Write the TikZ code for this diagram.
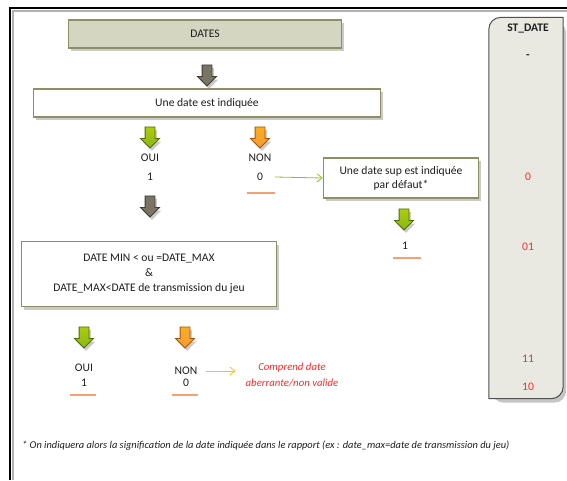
\documentclass[tikz,border=0pt]{standalone}
\usepackage{fontspec}
\setmainfont{Carlito}
\usetikzlibrary{shapes.arrows,shadows,arrows.meta}
\definecolor{oliveb}{HTML}{8E9063}
\definecolor{khaki}{HTML}{D4D6C1}
\definecolor{panelf}{HTML}{E9E9E1}
\definecolor{panelb}{HTML}{4F4F4F}
\definecolor{greenf}{HTML}{8AB713}
\definecolor{greenb}{HTML}{4F6B0C}
\definecolor{orangef}{HTML}{F79A2E}
\definecolor{orangeb}{HTML}{A6580A}
\definecolor{darkf}{HTML}{7A7466}
\definecolor{darkb}{HTML}{3F3B31}
\definecolor{redt}{HTML}{FF2A2A}
\definecolor{uline}{HTML}{F4A070}
\definecolor{greenl}{HTML}{8DC21F}
\definecolor{yell}{HTML}{FFC000}
\definecolor{txt}{HTML}{1E1E1E}
\tikzset{
  shad/.style={drop shadow={shadow xshift=2pt,shadow yshift=-3pt,opacity=0.35,fill=black!60}},
  box/.style={draw=oliveb,line width=1.6pt,fill=white,shad,text=txt,font=\fontsize{11.6}{14}\selectfont,align=center,inner sep=0pt},
  blockarrow/.style={single arrow,shape border rotate=270,minimum height=21pt,inner sep=4.5pt,single arrow head extend=4.5pt,line width=0.8pt,shad},
  garrow/.style={blockarrow,draw=greenb,top color=greenf!70!yellow,bottom color=greenf},
  oarrow/.style={blockarrow,draw=orangeb,top color=orangef!80!yellow,bottom color=orangef},
  darrow/.style={blockarrow,draw=darkb,fill=darkf},
  lbl/.style={text=txt,font=\fontsize{11.6}{14}\selectfont,inner sep=0pt},
  red/.style={text=redt,font=\fontsize{11.6}{14}\selectfont,inner sep=0pt},
  ul/.style={draw=uline,line width=1.2pt},
}
\begin{document}
\begin{tikzpicture}[x=1pt,y=-1pt]
\useasboundingbox (0,0) rectangle (567,480);
% outer frame
\draw[black!30,line width=2pt] (13,480) -- (13,11) -- (567,11);
\draw[black,line width=2.4pt] (10,480) -- (10,8) -- (567,8);
% ST_DATE panel
\node[minimum width=74pt,minimum height=381pt,inner sep=0pt] (st) at (526,208) {};
\fill[black!45,opacity=0.5,rounded corners=12pt] ([shift={(3pt,-4pt)}]st.north west) -- ([shift={(3pt,-4pt)}]st.north east) -- ([shift={(3pt,-4pt)}]st.south east) -- ([shift={(3pt,-4pt)}]st.south west) -- cycle;
\draw[panelb,fill=panelf,line width=1pt] (st.south west) -- ([yshift=-12pt]st.north west) arc[start angle=180,end angle=90,radius=12pt] -- (st.north east) -- ([yshift=12pt]st.south east) arc[start angle=0,end angle=-90,radius=12pt] -- cycle;
\node[text=txt,font=\bfseries\fontsize{11.6}{14}\selectfont,inner sep=0pt] (sttitle) at (528,29) {ST\_DATE};
\node[lbl,font=\bfseries\fontsize{11.6}{14}\selectfont] (stdash) at (528,57) {-};
\node[red] (st0) at (528,177) {0};
\node[red] (st01) at (528,247) {01};
\node[red] (st11) at (528,359) {11};
\node[red] (st10) at (528,387) {10};
% DATES
\node[box,fill=khaki,minimum width=273pt,minimum height=28pt] (dates) at (205,34) {DATES};
\node[darrow] (a1) at (207,73) {};
\node[box,minimum width=347pt,minimum height=28pt] (q1) at (207,103) {Une date est indiquée};
\node[garrow] (g1) at (150,135) {};
\node[oarrow] (o1) at (260,135) {};
\node[lbl] (oui1) at (150,158) {OUI};
\node[lbl] (one1) at (150,177) {1};
\node[lbl] (non1) at (260,158) {NON};
\node[lbl] (zero1) at (260,177) {0};
\draw[ul] (247,193) -- (275,193);
\node[darrow] (a2) at (150,204) {};
\node[box,minimum width=155pt,minimum height=40pt] (sup) at (401,178) {Une date sup est indiquée\\par défaut*};
\draw[greenl,line width=0.8pt,-{Straight Barb[length=5pt,width=8pt]}] ([xshift=12pt]zero1.east) -- (sup.west);
\node[garrow] (g2) at (404,217) {};
\node[lbl] (one2) at (405,246) {1};
\draw[ul] (393,258) -- (421,258);
% second question
\node[box,minimum width=255pt,minimum height=65pt] (q2) at (149,274) {DATE MIN < ou =DATE\_MAX\\[1pt]\&\\[1pt]DATE\_MAX<DATE de transmission du jeu};
\node[garrow] (g3) at (84,335) {};
\node[oarrow] (o3) at (185,335) {};
\node[lbl] (oui3) at (84,368) {OUI};
\node[lbl] (one3) at (84,383) {1};
\draw[ul] (70,395) -- (96,395);
\node[lbl] (non3) at (186,371) {NON};
\node[lbl] (zero3) at (186,383) {0};
\draw[ul] (172,395) -- (198,395);
\node[red,font=\itshape\fontsize{10.8}{16}\selectfont,align=center] (compr) at (292,375) {Comprend date\\aberrante/non valide};
\draw[yell,line width=0.8pt,-{Straight Barb[length=5pt,width=8pt]}] ([xshift=8pt]non3.east) -- ([xshift=-10pt]compr.west |- non3.east);
% footnote
\node[lbl,font=\itshape\fontsize{10.4}{12}\selectfont,anchor=west] (foot) at (22,446) {* On indiquera alors la signification de la date indiquée dans le rapport (ex : date\_max=date de transmission du jeu)};
\end{tikzpicture}
\end{document}
